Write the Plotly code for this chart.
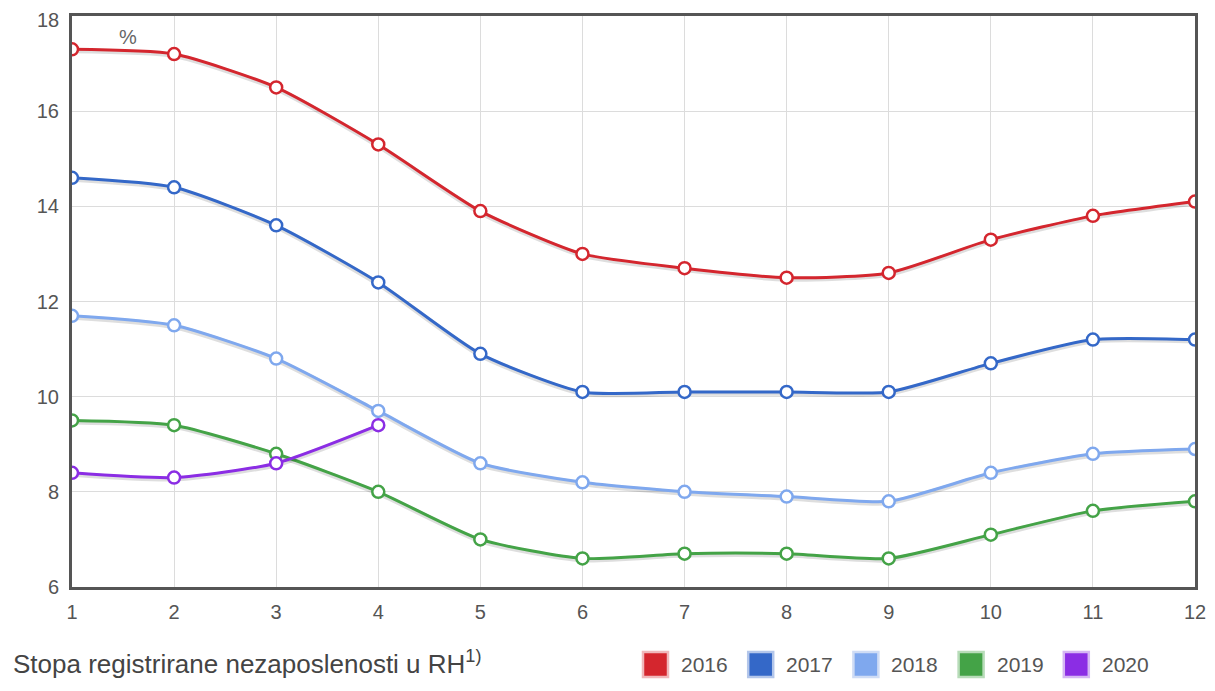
import plotly.graph_objects as go

months = [1, 2, 3, 4, 5, 6, 7, 8, 9, 10, 11, 12]
y2016 = [17.3, 17.2, 16.5, 15.3, 13.9, 13.0, 12.7, 12.5, 12.6, 13.3, 13.8, 14.1]
y2017 = [14.6, 14.4, 13.6, 12.4, 10.9, 10.1, 10.1, 10.1, 10.1, 10.7, 11.2, 11.2]
y2018 = [11.7, 11.5, 10.8, 9.7, 8.6, 8.2, 8.0, 7.9, 7.8, 8.4, 8.8, 8.9]
y2019 = [9.5, 9.4, 8.8, 8.0, 7.0, 6.6, 6.7, 6.7, 6.6, 7.1, 7.6, 7.8]
y2020 = [8.4, 8.3, 8.6, 9.4]
yticks = [6, 8, 10, 12, 14, 16, 18]
years = ["2016", "2017", "2018", "2019", "2020"]
series = [y2016, y2017, y2018, y2019, y2020]
colors = ["#d4262e", "#3468c8", "#7fa8ee", "#44a347", "#8b2de4"]
tints = ["#f0b8bb", "#b3c6ea", "#cfdcf5", "#b8dcb9", "#d5b6f3"]

# page geometry (body has 8px margin)
W, H = 1199, 675
L, R, T, B = 64, 12, 8, 96
PX0, PX1 = 8 + L, 8 + W - R
PY0, PY1 = 8 + T, 8 + H - B


def px(x):
    return (x - PX0) / (PX1 - PX0)


def py(y):
    return (PY1 - y) / (PY1 - PY0)


fig = go.Figure()
for name, ys, c in zip(years, series, colors):
    xs = months[:len(ys)]
    fig.add_trace(go.Scatter(x=xs, y=[v - 0.03 for v in ys], mode="lines",
                             line=dict(color="rgba(0,0,0,0.13)", width=5, shape="spline", smoothing=0.6),
                             showlegend=False, hoverinfo="skip"))
    fig.add_trace(go.Scatter(x=xs, y=ys, mode="lines+markers", name=name,
                             line=dict(color=c, width=3, shape="spline", smoothing=0.6),
                             marker=dict(size=12, color="white", line=dict(color=c, width=2.5)),
                             showlegend=False))

# top tick label drawn separately, nudged down to stay inside the page
ytext = [str(v) for v in yticks[:-1]] + [""]

fig.update_layout(
    width=W, height=H,
    margin=dict(l=L, r=R, t=T, b=B, autoexpand=False),
    paper_bgcolor="white", plot_bgcolor="white",
    font=dict(family="Liberation Sans, Arial, sans-serif", color="#555555", size=20),
    xaxis=dict(range=[1, 12], tickvals=months, showgrid=True, gridcolor="#dcdcdc", gridwidth=1,
               showline=True, mirror=True, linecolor="#555555", linewidth=3, zeroline=False,
               ticks="outside", ticklen=5, tickcolor="rgba(0,0,0,0)", automargin=False,
               ticklabeloverflow="allow", tickfont=dict(size=20, color="#555555")),
    yaxis=dict(range=[6, 18], tickvals=yticks, ticktext=ytext, showgrid=True, gridcolor="#dcdcdc", gridwidth=1,
               showline=True, mirror=True, linecolor="#555555", linewidth=3, zeroline=False,
               ticks="outside", ticklen=6, tickcolor="rgba(0,0,0,0)", automargin=False,
               ticklabeloverflow="allow", tickfont=dict(size=20, color="#555555")),
    showlegend=False,
)
fig.add_annotation(text=str(yticks[-1]), xref="paper", yref="y", x=0, y=yticks[-1],
                   xanchor="right", yanchor="middle", xshift=-11, yshift=-4, showarrow=False,
                   font=dict(size=20, color="#555555"))
fig.add_annotation(text="%", xref="paper", yref="paper", x=px(128), y=py(37),
                   xanchor="center", yanchor="middle", showarrow=False,
                   font=dict(size=20, color="#666666"))
fig.add_annotation(text="Stopa registrirane nezaposlenosti u RH<sup>1)</sup>", xref="paper", yref="paper",
                   x=px(11), xanchor="left", y=py(662), yanchor="middle", showarrow=False,
                   font=dict(size=26, color="#444444"))

# legend
for i, (name, c, t) in enumerate(zip(years, colors, tints)):
    x0 = 643 + i * 105.2
    fig.add_shape(type="rect", xref="paper", yref="paper",
                  x0=px(x0), x1=px(x0 + 25), y0=py(677), y1=py(652),
                  fillcolor=c, line=dict(color=t, width=2.5))
    fig.add_annotation(text=name, xref="paper", yref="paper", x=px(x0 + 36), xanchor="left",
                       y=py(664), yanchor="middle", showarrow=False,
                       font=dict(size=21, color="#555555"))

fig.write_html("out.html")
